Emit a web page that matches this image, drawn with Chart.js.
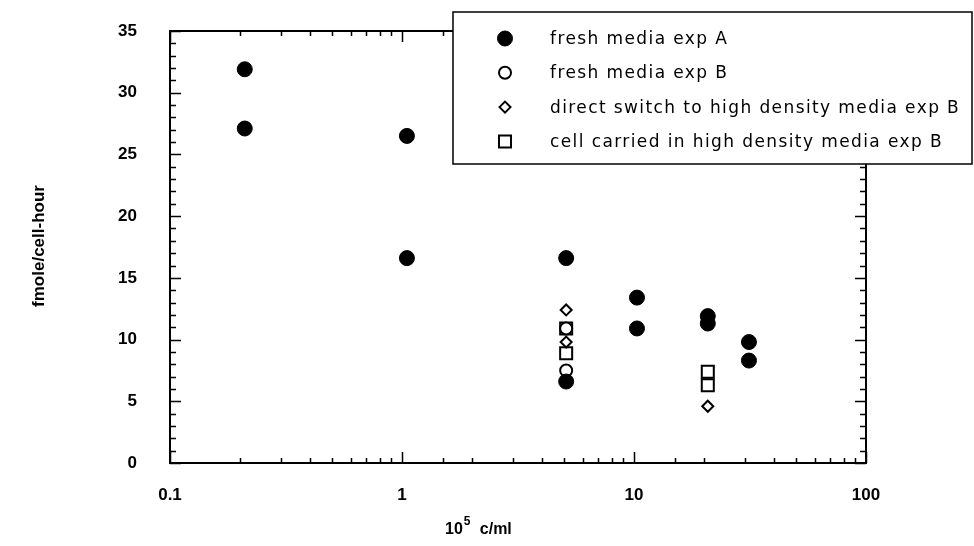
<!DOCTYPE html>
<html>
<head>
<meta charset="utf-8">
<script src="https://cdn.jsdelivr.net/npm/chart.js@4.4.0/dist/chart.umd.min.js"></script>
<style>
  html, body { margin: 0; padding: 0; background: #fff; }
  #wrap { width: 974px; height: 546px; }
</style>
</head>
<body>
<div id="wrap"><canvas id="uptakeChart" width="974" height="546"></canvas></div>
<script>
// cell density (10^5 c/ml) and uptake rate (fmole/cell-hour) per series
const densityA = [0.21, 0.21, 1.05, 1.05, 5.1, 5.1, 10.3, 10.3, 20.8, 20.8, 31.3, 31.3];
const rateA = [31.9, 27.1, 26.5, 16.6, 16.6, 6.6, 13.4, 10.9, 11.9, 11.3, 9.8, 8.3];
const densityB = [5.1, 5.1];
const rateB = [10.9, 7.5];
const densitySwitch = [5.1, 5.1, 20.8];
const rateSwitch = [12.4, 9.8, 4.6];
const densityCarried = [5.1, 5.1, 20.8, 20.8];
const rateCarried = [10.9, 8.9, 7.4, 6.3];

const seriesLabels = [
    'fresh media exp A',
    'fresh media exp B',
    'direct switch to high density media exp B',
    'cell carried in high density media exp B'
];
const xTickLabels = [0.1, 1, 10, 100];
const yTickLabels = [0, 5, 10, 15, 20, 25, 30, 35];

const toPoints = (xs, ys) => xs.map((x, i) => ({ x, y: ys[i] }));
const isDecade = v => Math.abs(Math.log10(v) - Math.round(Math.log10(v))) < 1e-6;

const TICK_FONT = { family: 'Liberation Sans', size: 17, weight: 'bold' };

// frame, inward ticks on all four sides, axis titles and the boxed legend
const framePlugin = {
    id: 'framePlugin',
    afterDraw(chart) {
        const { ctx, chartArea: a, scales } = chart;
        ctx.save();
        ctx.strokeStyle = '#000';
        ctx.lineWidth = 1.5;
        ctx.beginPath();
        scales.x.ticks.forEach(t => {
            const px = Math.round(scales.x.getPixelForValue(t.value)) + 0.5;
            const len = isDecade(t.value) ? 11 : 5;
            ctx.moveTo(px, a.bottom); ctx.lineTo(px, a.bottom - len);
            ctx.moveTo(px, a.top); ctx.lineTo(px, a.top + len);
        });
        scales.y.ticks.forEach(t => {
            const py = Math.round(scales.y.getPixelForValue(t.value)) + 0.5;
            const len = t.value % 5 === 0 ? 11 : 6;
            ctx.moveTo(a.left, py); ctx.lineTo(a.left + len, py);
            ctx.moveTo(a.right, py); ctx.lineTo(a.right - len, py);
        });
        ctx.stroke();
        ctx.lineWidth = 2;
        ctx.strokeRect(a.left, a.top, a.right - a.left, a.bottom - a.top);

        // axis titles
        ctx.fillStyle = '#000';
        ctx.font = 'bold 16px "Liberation Sans"';
        ctx.textBaseline = 'alphabetic';
        ctx.textAlign = 'left';
        let tx = 445;
        ctx.fillText('10', tx, 534);
        tx += ctx.measureText('10').width + 1;
        ctx.font = 'bold 12px "Liberation Sans"';
        ctx.fillText('5', tx, 525);
        tx += 16;
        ctx.font = 'bold 16px "Liberation Sans"';
        ctx.fillText('c/ml', tx, 534);

        ctx.save();
        ctx.translate(44, 246);
        ctx.rotate(-Math.PI / 2);
        ctx.textAlign = 'center';
        ctx.font = 'bold 17px "Liberation Sans"';
        ctx.fillText('fmole/cell-hour', 0, 0);
        ctx.restore();

        // legend box sits over the top right corner of the frame
        const box = { left: 453, top: 12, right: 972, bottom: 164 };
        ctx.fillStyle = '#fff';
        ctx.fillRect(box.left, box.top, box.right - box.left, box.bottom - box.top);
        ctx.lineWidth = 1.5;
        ctx.strokeStyle = '#000';
        ctx.strokeRect(box.left, box.top, box.right - box.left, box.bottom - box.top);

        ctx.font = '17px "DejaVu Sans"';
        ctx.letterSpacing = '1.4px';
        ctx.textBaseline = 'middle';
        chart.data.datasets.forEach((ds, i) => {
            const y = 38.5 + i * 34.3;
            ctx.fillStyle = ds.backgroundColor;
            ctx.strokeStyle = ds.borderColor;
            ctx.lineWidth = ds.borderWidth;
            Chart.helpers.drawPoint(ctx, {
                pointStyle: ds.pointStyle,
                radius: ds.pointRadius,
                rotation: 0,
                borderWidth: ds.borderWidth
            }, 505, y);
            ctx.fillStyle = '#000';
            ctx.fillText(ds.label, 550, y + 1);
        });
        ctx.restore();
    }
};

new Chart(document.getElementById('uptakeChart'), {
    type: 'scatter',
    data: {
        datasets: [
            {
                label: seriesLabels[0],
                data: toPoints(densityA, rateA),
                pointStyle: 'circle', pointRadius: 7.5,
                backgroundColor: '#000', borderColor: '#000', borderWidth: 1
            },
            {
                label: seriesLabels[1],
                data: toPoints(densityB, rateB),
                pointStyle: 'circle', pointRadius: 6,
                backgroundColor: '#fff', borderColor: '#000', borderWidth: 2
            },
            {
                label: seriesLabels[2],
                data: toPoints(densitySwitch, rateSwitch),
                pointStyle: 'rectRot', pointRadius: 5.5,
                backgroundColor: '#fff', borderColor: '#000', borderWidth: 2
            },
            {
                label: seriesLabels[3],
                data: toPoints(densityCarried, rateCarried),
                pointStyle: 'rect', pointRadius: 8.5,
                backgroundColor: '#fff', borderColor: '#000', borderWidth: 2
            }
        ]
    },
    options: {
        responsive: false,
        animation: false,
        layout: { padding: { left: 0, top: 31, right: 108, bottom: 0 } },
        plugins: {
            legend: { display: false },
            tooltip: { enabled: false }
        },
        scales: {
            x: {
                type: 'logarithmic',
                min: 0.1,
                max: 100,
                grid: { display: false },
                border: { display: false },
                ticks: {
                    autoSkip: false,
                    maxRotation: 0,
                    padding: 14,
                    color: '#000',
                    font: TICK_FONT,
                    callback: v => xTickLabels.find(l => Math.abs(l - v) < 1e-9) !== undefined ? String(v) : ''
                },
                afterFit: s => { s.height = 83; s.paddingLeft = 0; s.paddingRight = 0; }
            },
            y: {
                min: 0,
                max: 35,
                grid: { display: false },
                border: { display: false },
                ticks: {
                    stepSize: 1,
                    autoSkip: false,
                    padding: 25,
                    color: '#000',
                    font: TICK_FONT,
                    callback: v => yTickLabels.includes(v) ? String(v) : ''
                },
                afterFit: s => { s.width = 170; s.paddingTop = 0; s.paddingBottom = 0; }
            }
        }
    },
    plugins: [framePlugin]
});
</script>
</body>
</html>
